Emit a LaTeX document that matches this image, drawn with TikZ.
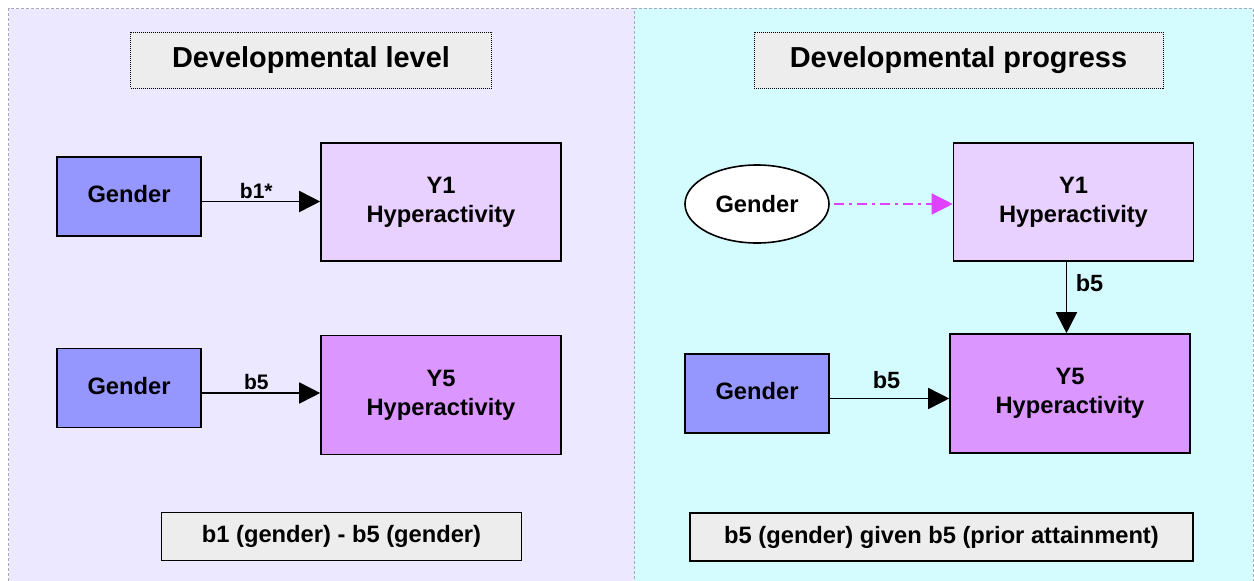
\documentclass[tikz,border=0pt]{standalone}
\usepackage{fontspec}
\setmainfont{Liberation Sans}
\usetikzlibrary{arrows.meta,shapes.geometric}
\definecolor{panelL}{HTML}{EBE8FF}
\definecolor{panelR}{HTML}{D4FCFF}
\definecolor{gendc}{HTML}{9696FF}
\definecolor{yonec}{HTML}{E8D0FF}
\definecolor{yfivec}{HTML}{DB96FF}
\definecolor{titlec}{HTML}{EDEDED}
\definecolor{magc}{HTML}{E040FF}
\definecolor{panelline}{HTML}{A8A8B8}
\begin{document}
\begin{tikzpicture}[x=1pt,y=-1pt,
  box/.style={draw=black,line width=1.6pt,rectangle,inner sep=0pt,align=center,
     font=\fontsize{23.7}{29}\selectfont\bfseries},
  gend/.style={box,fill=gendc,minimum width=144pt,minimum height=79pt},
  yone/.style={box,fill=yonec,minimum width=240pt,minimum height=118pt},
  yfive/.style={box,fill=yfivec,minimum width=240pt,minimum height=119pt},
  titlebox/.style={draw=black,line width=1pt,dash pattern=on 1pt off 1pt,fill=titlec,
     minimum height=56pt,inner sep=0pt,font=\fontsize{28.9}{33}\selectfont\bfseries},
  sumbox/.style={draw=black,line width=1.4pt,fill=titlec,minimum height=48pt,inner sep=0pt,
     font=\fontsize{23.7}{27}\selectfont\bfseries},
  conn/.style={draw=black,line width=1.7pt,-{Triangle[length=21pt,width=21pt]}},
  lblL/.style={font=\fontsize{21}{24}\selectfont\bfseries,inner sep=0pt},
  lblR/.style={font=\fontsize{23.5}{26}\selectfont\bfseries,inner sep=0pt},
  panelborder/.style={draw=panelline,line width=0.8pt,dash pattern=on 3pt off 2pt}
]
\useasboundingbox (0,0) rectangle (1254,581);
% panels
\fill[panelL] (8.5,8.5) rectangle (634,581);
\fill[panelR] (634,8) rectangle (1253,581);
\draw[panelborder] (8.5,581) -- (8.5,8.5) -- (634,8.5) -- (634,581);
\draw[panelborder] (634,8) -- (1253,8) -- (1253,581);
% titles
\node[titlebox,minimum width=361pt] (tl) at (311,60) {\raisebox{-3pt}{Developmental level}};
\node[titlebox,minimum width=409pt] (tr) at (958.5,60) {\raisebox{-3pt}{Developmental progress}};
% left panel
\node[gend] (g1) at (129,196.5) {\raisebox{5pt}{Gender}};
\node[yone] (y1l) at (441,202) {Y1\\Hyperactivity};
\node[gend] (g2) at (129,388) {\raisebox{5pt}{Gender}};
\node[yfive] (y5l) at (441,395) {Y5\\Hyperactivity};
\coordinate (a1) at ([yshift=-5pt]g1.east);
\coordinate (a2) at ([yshift=-5pt]g2.east);
\draw[conn] (a1) -- (y1l.west |- a1)
  node[lblL,pos=.46,yshift=11pt] {b1*};
\draw[conn] (a2) -- (y5l.west |- a2)
  node[lblL,pos=.46,yshift=11pt] {b5};
\node[sumbox,minimum width=360pt] (sl) at (341.5,536.5) {\raisebox{-2.5pt}{b1 (gender) - b5 (gender)}};
% right panel
\node[draw=black,line width=1.6pt,ellipse,fill=white,minimum width=144pt,minimum height=78pt,
  inner sep=0pt,font=\fontsize{23.7}{29}\selectfont\bfseries] (ge) at (757,204) {Gender};
\node[yone] (y1r) at (1073.5,202) {Y1\\Hyperactivity};
\node[yfive] (y5r) at (1070,393.5) {Y5\\Hyperactivity};
\node[gend] (gr) at (757,393.5) {\raisebox{6pt}{Gender}};
\coordinate (a3) at (ge.east);
\draw[draw=magc,line width=1.5pt,dash pattern=on 10pt off 5pt on 3pt off 5pt,
  -{Triangle[length=21pt,width=21pt,fill=magc]},shorten <=4pt]
  (a3) -- (y1r.west |- a3);
\coordinate (a4) at ([xshift=-7pt]y1r.south);
\draw[conn] (a4) -- (a4 |- y5r.north)
  node[lblR,pos=.3,xshift=23pt] {b5};
\coordinate (a5) at ([yshift=-5pt]gr.east);
\draw[conn] (a5) -- (y5r.west |- a5)
  node[lblR,pos=.475,yshift=18pt] {b5};
\node[sumbox,minimum width=503pt] (sr) at (941.5,537) {\raisebox{-2.5pt}{b5 (gender) given b5 (prior attainment)}};
\end{tikzpicture}
\end{document}
